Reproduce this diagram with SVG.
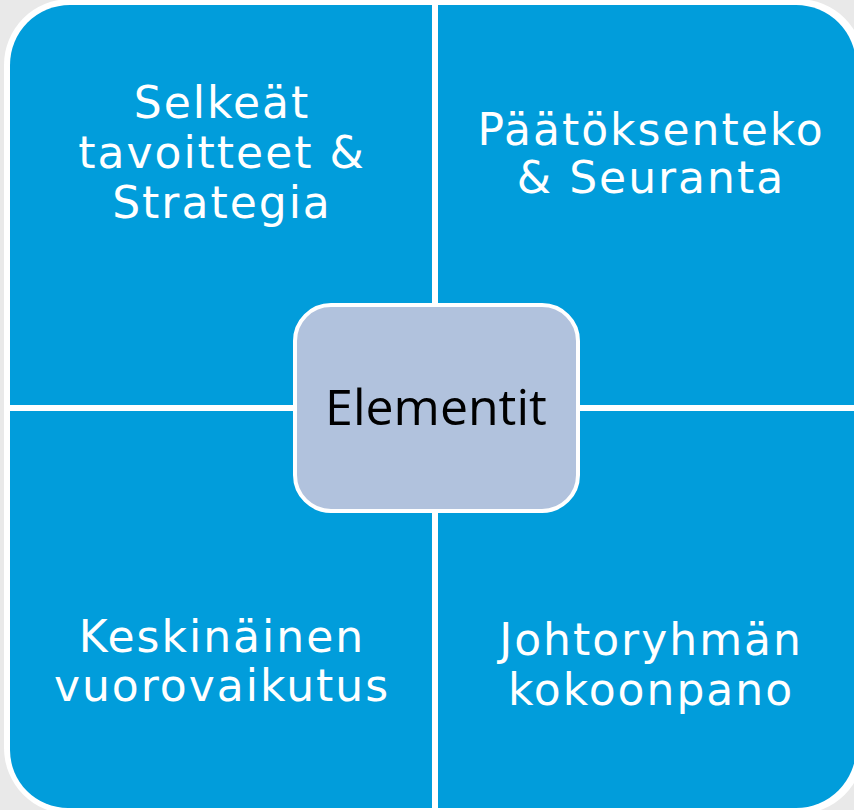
<svg xmlns="http://www.w3.org/2000/svg" width="854" height="810" viewBox="0 0 854 810">
<style>
.q{fill:#019DDB}
.t{font-family:"DejaVu Sans","Noto Sans",sans-serif;font-size:44px;letter-spacing:2px;fill:#FFFFFF;text-anchor:middle}
.c{font-family:"Open Sans","Noto Sans",sans-serif;font-size:50px;fill:#000000;text-anchor:middle}
</style>
<rect x="0" y="0" width="854" height="810" fill="#E9E9E9"/>
<rect x="4" y="-1" width="860" height="815" rx="66" fill="#FFFFFF"/>
<g id="q-top-left">
<path class="q" d="M10,65 A60,60 0 0 1 70,5 L432,5 L432,405 L10,405 Z"/>
<text class="t" x="222" y="118">Selkeät</text>
<text class="t" x="222" y="168">tavoitteet &amp;</text>
<text class="t" x="222" y="218">Strategia</text>
</g>
<g id="q-top-right">
<path class="q" d="M438,5 L796,5 A60,60 0 0 1 856,65 L856,405 L438,405 Z"/>
<text class="t" x="651" y="145">Päätöksenteko</text>
<text class="t" x="651" y="193">&amp; Seuranta</text>
</g>
<g id="q-bottom-left">
<path class="q" d="M10,411 L432,411 L432,808 L68,808 A58,58 0 0 1 10,750 Z"/>
<text class="t" x="222" y="652">Keskinäinen</text>
<text class="t" x="222" y="701">vuorovaikutus</text>
</g>
<g id="q-bottom-right">
<path class="q" d="M438,411 L856,411 L856,748 A60,60 0 0 1 796,808 L438,808 Z"/>
<text class="t" x="651" y="655">Johtoryhmän</text>
<text class="t" x="651" y="705">kokoonpano</text>
</g>
<g id="center">
<rect x="295" y="305" width="283" height="206" rx="36" fill="#B1C2DD" stroke="#FFFFFF" stroke-width="4"/>
<text class="c" x="436" y="425">Elementit</text>
</g>
</svg>
